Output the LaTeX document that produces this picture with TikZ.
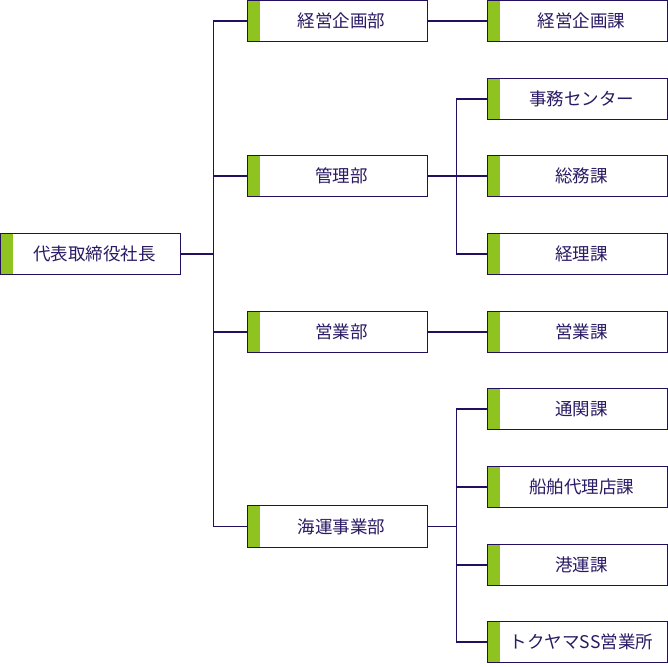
\documentclass[tikz,border=0pt]{standalone}
\usepackage{fontspec}
\setmainfont{Noto Sans CJK JP}
\definecolor{navy}{HTML}{22105E}
\definecolor{txt}{HTML}{2A1A64}
\definecolor{leaf}{HTML}{8FC31F}
\tikzset{
  orgbox/.style={draw=navy, line width=1.3pt, fill=white, rectangle,
    minimum width=180pt, minimum height=41.5pt, inner sep=0pt,
    text=txt, font=\fontsize{17.5pt}{20pt}\selectfont,
    execute at begin node={\hspace*{8pt}},
    path picture={\fill[leaf] (path picture bounding box.south west) rectangle ([xshift=12.5pt]path picture bounding box.north west);}},
  link/.style={draw=navy, line width=1.2pt}
}
\begin{document}
\begin{tikzpicture}[x=1pt,y=-1pt]
\useasboundingbox (0,0) rectangle (668,666);
% level 1
\node[orgbox] (ceo) at (90.5,254) {代表取締役社長};
% level 2
\node[orgbox] (keiei) at (337.5,21) {経営企画部};
\node[orgbox] (kanri) at (337.5,176) {管理部};
\node[orgbox] (eigyo) at (337.5,332) {営業部};
\node[orgbox] (kaiun) at (337.5,526.5) {海運事業部};
% level 3
\node[orgbox] (keieika) at (577.5,21) {経営企画課};
\node[orgbox] (jimu) at (577.5,99) {事務センター};
\node[orgbox] (somu) at (577.5,176) {総務課};
\node[orgbox] (keiri) at (577.5,254) {経理課};
\node[orgbox] (eigyoka) at (577.5,332) {営業課};
\node[orgbox] (tsukan) at (577.5,409) {通関課};
\node[orgbox] (senpaku) at (577.5,487) {船舶代理店課};
\node[orgbox] (kou) at (577.5,565) {港運課};
\node[orgbox] (ss) at (577.5,642) {トクヤマSS営業所};
% trunk coordinates
\coordinate (t1) at (213.5,254);
\coordinate (t2) at (456.5,176);
\coordinate (t3) at (456.5,526.5);
% connectors level 1
\draw[link] (ceo.east) -- (t1);
\draw[link] (keiei.west) -| (t1 |- kaiun.west) -- (kaiun.west);
\draw[link] (t1 |- kanri.west) -- (kanri.west);
\draw[link] (t1 |- eigyo.west) -- (eigyo.west);
% connectors level 2
\draw[link] (keiei.east) -- (keieika.west);
\draw[link] (eigyo.east) -- (eigyoka.west);
\draw[link] (kanri.east) -- (somu.west);
\draw[link] (jimu.west) -| (t2 |- keiri.west) -- (keiri.west);
\draw[link] (kaiun.east) -- (t3);
\draw[link] (tsukan.west) -| (t3 |- ss.west) -- (ss.west);
\draw[link] (t3 |- senpaku.west) -- (senpaku.west);
\draw[link] (t3 |- kou.west) -- (kou.west);
\end{tikzpicture}
\end{document}
